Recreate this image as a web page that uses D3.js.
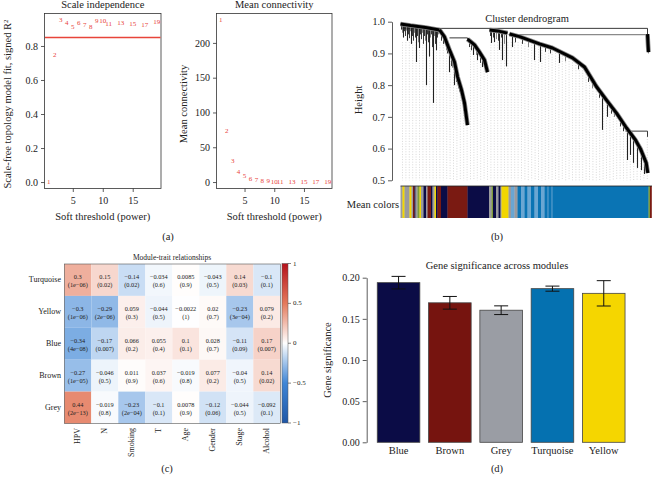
<!DOCTYPE html>
<html><head><meta charset="utf-8">
<script src="https://cdn.jsdelivr.net/npm/d3@7"></script>
<style>
body{margin:0;background:#fff}
svg{display:block}
text{font-family:"Liberation Serif","DejaVu Serif",serif;fill:#222}
</style>
</head><body>
<svg id="c" width="652" height="478"></svg>
<script>
// ================= DATA =================
// (a) soft-threshold analysis
const powers = [1,2,3,4,5,6,7,8,9,10,11,13,15,17,19];
const scaleFitR2 = [0.0,0.747,0.953,0.937,0.91,0.933,0.924,0.91,0.947,0.949,0.93,0.933,0.928,0.924,0.941];
const meanConnectivity = [233,73,30,15,8.7,5,3.5,1.5,0.8,0.6,0.4,0.3,0.2,0.15,0.1];
const r2Cutoff = 0.85;
const r2Ticks = [0,0.2,0.4,0.6,0.8];
const kTicks = [0,50,100,150,200];
const powerTicks = [5,10,15];

// (b) cluster dendrogram (leaf position 0..250, height)
const heightTicks = [0.5,0.6,0.7,0.8,0.9,1.0];
const dendroThick = [
  [[0,0.993],[10,0.988],[25,0.982],[39,0.974]],
  [[39,0.974],[44,0.952],[49,0.911],[54,0.873],[57,0.827],[61,0.785],[64,0.744],[67,0.674]],
  [[67,0.945],[74,0.927],[79,0.904],[84,0.879],[87,0.841]],
  [[89,0.974],[97,0.971],[107,0.964]],
  [[109,0.961],[119,0.953],[139,0.930],[152,0.917],[172,0.886],[184,0.857],[196,0.795],[206,0.753],[216,0.712],[226,0.665],[235,0.627],[240,0.599],[245.7,0.555],[247.3,0.523]],
  [[247,0.961],[247.5,0.93],[248,0.904]]
];
const dendroMedium = [
  [[40,0.972],[45,0.942],[50,0.90],[55,0.855],[59,0.79]]
];
const dendroThin = [
  [[1,0.979],[247,0.979],[247,0.961]],
  [[49,0.949],[67,0.949],[67,0.945]],
  [[225,0.655],[247,0.655],[247,0.637]]
];
const dendroGrey = [
  [[108,0.959],[247,0.959]]
];
// drops: [position, top height, bottom height]
const dendroDrops = [
  [3,0.99,0.95],[7,0.988,0.94],[11,0.987,0.93],[16,0.986,0.873],[19,0.985,0.917],[26,0.982,0.80],
  [29,0.98,0.89],[33,0.978,0.744],[36,0.976,0.91],
  [49,0.911,0.841],[54,0.873,0.80],
  [73,0.93,0.895],[77,0.915,0.879],[82,0.889,0.857],
  [91,0.973,0.933],[94,0.972,0.936],[99,0.970,0.911],[102,0.968,0.879],[106,0.965,0.859],
  [112,0.958,0.92],[134,0.935,0.879],[140,0.929,0.873],[159,0.905,0.87],
  [202,0.77,0.659],[207,0.75,0.70],
  [227,0.662,0.564],[230,0.652,0.58],[233,0.640,0.555],[237,0.618,0.539],[241,0.596,0.532],[244,0.573,0.52]
];
// short fuzz drops along the branches
const dendroFuzz = [
  [1,0.992,0.975],[2,0.992,0.965],[4,0.991,0.97],[5,0.991,0.955],[6,0.990,0.972],[8,0.989,0.96],[9,0.989,0.948],
  [10,0.988,0.97],[12,0.987,0.955],[13,0.987,0.94],[14,0.986,0.965],[15,0.986,0.95],[17,0.985,0.955],[18,0.985,0.935],
  [20,0.984,0.96],[21,0.984,0.945],[22,0.983,0.965],[23,0.983,0.93],[24,0.982,0.955],[25,0.982,0.94],[27,0.981,0.96],
  [28,0.981,0.935],[30,0.980,0.95],[31,0.979,0.96],[32,0.979,0.92],[34,0.978,0.955],[35,0.977,0.93],[37,0.976,0.95],[38,0.975,0.96],
  [41,0.968,0.94],[43,0.958,0.93],[46,0.94,0.91],[47,0.933,0.90],[51,0.896,0.86],[52,0.888,0.855],[56,0.842,0.81],
  [59,0.806,0.78],[62,0.771,0.74],[63,0.758,0.72],[65,0.72,0.69],[66,0.70,0.68],
  [69,0.94,0.92],[71,0.935,0.91],[76,0.922,0.895],[80,0.90,0.87],[85,0.87,0.845],[86,0.86,0.84],
  [90,0.973,0.955],[93,0.972,0.95],[96,0.971,0.945],[98,0.970,0.94],[101,0.969,0.95],[104,0.967,0.93],
  [115,0.956,0.935],[122,0.95,0.93],[128,0.943,0.92],[145,0.924,0.905],[150,0.919,0.9],[165,0.897,0.875],
  [178,0.872,0.85],[188,0.838,0.81],[192,0.818,0.79],[199,0.783,0.76],[211,0.732,0.71],[214,0.72,0.70],
  [220,0.69,0.67],[223,0.678,0.655],[248,0.93,0.90],[249,0.92,0.905]
];
const envelopePos = [0,39,45,50,58,67,68,75,88,89,108,120,140,172,184,196,206,216,226,236,241,246,249];
const envelopeH   = [0.942,0.942,0.942,0.904,0.822,0.674,0.935,0.92,0.841,0.942,0.942,0.942,0.927,0.886,0.857,0.794,0.753,0.712,0.665,0.621,0.596,0.548,0.91];
const stripeStart = [0,2,4,9,11,12.5,14,15,17,19,20.5,23,25.5,27,30.5,32,34,35.5,37,40.5,47,67,88.5,91,92.5,95.5,98,100,101,108,110.5,114,117,120.5,124,127,130.5,134,137.5,140.5,144,147,148,151,152,248,249.5];
const stripeColor = ["grey","yellow","grey","yellow","grey","brown","navy","grey","olive","yellow","grey","navy","grey","brown","navy","grey","yellow","navy","brown","navy","brown","navy","grey","olive","navy","grey","navy","grey","yellow","grey","light","grey","turq","light","turq","light","turq","light","turq","light","turq","light2","turq","light2","turq","olive","brown"];
const stripeEnd = 251;

// (c) module-trait relationships
const modules = ["Turquoise","Yellow","Blue","Brown","Grey"];
const traits = ["HPV","N","Smoking","T","Age","Gender","Stage","Alcohol"];
const corValues = [
  [0.3,0.15,-0.14,-0.034,0.0085,-0.043,0.14,-0.1],
  [-0.3,-0.29,0.059,-0.044,-0.0022,0.02,-0.23,0.079],
  [-0.34,-0.17,0.066,0.055,0.1,0.028,-0.11,0.17],
  [-0.27,-0.046,0.011,0.037,-0.019,0.077,-0.04,0.14],
  [0.44,-0.019,-0.23,-0.1,0.0078,-0.12,-0.044,-0.092]
];
const pValues = [
  ["1e-06","0.02","0.02","0.6","0.9","0.5","0.03","0.1"],
  ["1e-06","2e-06","0.3","0.5","1","0.7","3e-04","0.2"],
  ["4e-08","0.007","0.2","0.4","0.1","0.7","0.09","0.007"],
  ["1e-05","0.5","0.9","0.6","0.8","0.2","0.5","0.02"],
  ["2e-13","0.8","2e-04","0.1","0.9","0.06","0.5","0.1"]
];
const legendTicks = [1,0.5,0,-0.5,-1];

// (d) gene significance
const gsModules = ["Blue","Brown","Grey","Turquoise","Yellow"];
const gsMean = [0.194,0.1695,0.1605,0.1867,0.181];
const gsSE = [0.0076,0.0077,0.0053,0.0031,0.0154];
const gsColors = ["#0b0c46","#76140f","#9a9da4","#0571b0","#f5d600"];
const gsTicks = [0,0.05,0.1,0.15,0.2];

// ================= DRAWING =================
const svg = d3.select("#c");
const minus = s => String(s).replace("-", "\u2212");
const red = "#e8443a";

function styleAxis(g, fs){
  g.selectAll("text").style("font-size", fs+"px").attr("fill","#222");
  g.selectAll("line,path").attr("stroke","#333").attr("stroke-width",0.8);
}

// ---------- (a) ----------
function threshPanel(x0, x1, yDomain, yTicks, yFmt, values, title, ylabX, cutoff){
  const y0 = 13.5, y1 = 188.5;
  const xs = d3.scaleLinear().domain([0.28,19.72]).range([x0,x1]);
  const ys = d3.scaleLinear().domain(yDomain).range([y1,y0]);
  const g = svg.append("g");
  g.append("rect").attr("x",x0).attr("y",y0).attr("width",x1-x0).attr("height",y1-y0)
    .attr("fill","none").attr("stroke","#333").attr("stroke-width",0.8);
  if (cutoff !== null) {
    g.append("line").attr("x1",x0+0.5).attr("x2",x1-0.5).attr("y1",ys(cutoff)).attr("y2",ys(cutoff))
      .style("stroke",red).style("stroke-width","1.3px");
  }
  g.selectAll("text.pt").data(powers).join("text").attr("class","pt")
    .attr("x",(d)=>xs(d)).attr("y",(d,i)=>ys(values[i])).attr("text-anchor","middle")
    .attr("dominant-baseline","central").style("font-size","7px").style("fill",red)
    .text(d=>d);
  const ya = g.append("g").attr("transform",`translate(${x0},0)`)
    .call(d3.axisLeft(ys).tickValues(yTicks).tickFormat(yFmt).tickSize(3.5).tickPadding(3));
  ya.select(".domain").remove(); styleAxis(ya, 10);
  const xa = g.append("g").attr("transform",`translate(0,${y1})`)
    .call(d3.axisBottom(xs).tickValues(powerTicks).tickSize(3.5).tickPadding(5));
  xa.select(".domain").remove(); styleAxis(xa, 10);
  g.append("text").attr("x",(x0+x1)/2).attr("y",7.5).attr("text-anchor","middle").style("font-size","10.5px").text(title);
  g.append("text").attr("x",(x0+x1)/2).attr("y",220).attr("text-anchor","middle").style("font-size","10.5px").text("Soft threshold (power)");
  return g.append("text").attr("transform",`translate(${ylabX},${(y0+y1)/2+3}) rotate(-90)`)
    .attr("text-anchor","middle").style("font-size","10.5px");
}
const yl1 = threshPanel(44.5,161,[-0.038,0.991],r2Ticks,d3.format(".1f"),scaleFitR2,"Scale independence",11,r2Cutoff);
yl1.text("Scale-free topology model fit, signed R");
yl1.append("tspan").attr("dy","-0.4em").style("font-size","7px").text("2");
const yl2 = threshPanel(216.5,332,[-9.3,242.3],kTicks,d3.format("d"),meanConnectivity,"Mean connectivity",186.5,null);
yl2.text("Mean connectivity");
svg.append("text").attr("x",168).attr("y",240).attr("text-anchor","middle").style("font-size","10.5px").text("(a)");

// ---------- (b) ----------
(function(){
  const leaf = d3.scaleLinear().domain([0,250]).range([400.5,650.5]);
  const yh = d3.scaleLinear().domain([0.5,1.0]).range([180.3,21.7]);
  const g = svg.append("g");
  const env = d3.scaleLinear().domain(envelopePos).range(envelopeH);
  const dotPos = d3.range(2,249,3.4);
  g.selectAll("line.dot").data(dotPos).join("line").attr("class","dot")
    .attr("x1",d=>leaf(d)).attr("x2",d=>leaf(d)).attr("y1",d=>yh(env(d))+2).attr("y2",yh(0.5))
    .attr("stroke","#bdbdbd").attr("stroke-width",0.6).attr("stroke-dasharray","1,1.6");
  const ln = d3.line().x(d=>leaf(d[0])).y(d=>yh(d[1]));
  g.selectAll("path.grey").data(dendroGrey).join("path").attr("d",ln).attr("fill","none")
    .attr("stroke","#8a8a8a").attr("stroke-width",1.2);
  g.selectAll("path.thin").data(dendroThin).join("path").attr("d",ln).attr("fill","none")
    .attr("stroke","#222").attr("stroke-width",0.9);
  g.selectAll("line.fuzz").data(dendroFuzz).join("line").attr("class","fuzz")
    .attr("x1",d=>leaf(d[0])).attr("x2",d=>leaf(d[0])).attr("y1",d=>yh(d[1])).attr("y2",d=>yh(d[2]))
    .attr("stroke",(d,i)=>i%3===1?"#777":"#222").attr("stroke-width",0.9);
  g.selectAll("line.drop").data(dendroDrops).join("line").attr("class","drop")
    .attr("x1",d=>leaf(d[0])).attr("x2",d=>leaf(d[0])).attr("y1",d=>yh(d[1])).attr("y2",d=>yh(d[2]))
    .attr("stroke","#222").attr("stroke-width",1.1);
  g.selectAll("path.med").data(dendroMedium).join("path").attr("d",ln).attr("fill","none")
    .attr("stroke","#333").attr("stroke-width",2).attr("stroke-linejoin","round");
  g.selectAll("path.thickhalo").data(dendroThick).join("path").attr("d",ln).attr("fill","none")
    .attr("stroke","#888").attr("stroke-width",4.6).attr("stroke-linejoin","round");
  g.selectAll("path.thick").data(dendroThick).join("path").attr("d",ln).attr("fill","none")
    .attr("stroke","#000").attr("stroke-width",3).attr("stroke-linejoin","round");
  const ya = g.append("g").attr("transform","translate(392,0)")
    .call(d3.axisLeft(yh).tickValues(heightTicks).tickFormat(d3.format(".1f")).tickSize(4).tickSizeOuter(0).tickPadding(3));
  styleAxis(ya,10);
  g.append("text").attr("transform","translate(362,100) rotate(-90)").attr("text-anchor","middle").style("font-size","10.5px").text("Height");
  g.append("text").attr("x",527).attr("y",22).attr("text-anchor","middle").style("font-size","10.5px").text("Cluster dendrogram");
  const modCol = {grey:"#9a9a9e",navy:"#0b0c46",brown:"#7a1a12",yellow:"#f2d600",turq:"#0a74b4",light:"#6aa6d2",light2:"#3d8cc4",olive:"#7e9a3a"};
  const stripes = stripeStart.map((s,i)=>({s, e: i<stripeStart.length-1 ? stripeStart[i+1] : stripeEnd, c: modCol[stripeColor[i]]}));
  g.selectAll("rect.st").data(stripes).join("rect").attr("class","st")
    .attr("x",d=>leaf(d.s)).attr("width",d=>leaf(d.e)-leaf(d.s)+0.3).attr("y",186).attr("height",32)
    .attr("fill",d=>d.c);
  g.append("line").attr("x1",leaf(0)).attr("x2",652).attr("y1",186).attr("y2",186).attr("stroke","#222").attr("stroke-width",0.8);
  g.append("text").attr("x",399).attr("y",208).attr("text-anchor","end").style("font-size","10.5px").text("Mean colors");
  svg.append("text").attr("x",497).attr("y",240).attr("text-anchor","middle").style("font-size","10.5px").text("(b)");
})();

// ---------- (c) ----------
(function(){
  const x = d3.scaleBand().domain(traits).range([64.3,280.3]);
  const y = d3.scaleBand().domain(modules).range([264,423.5]);
  const col = d3.scaleLinear().domain([-1,-0.5,0,0.5,1])
    .range(["#1f56a6","#3f86d6","#ffffff","#e47a5c","#b5121b"]).interpolate(d3.interpolateRgb);
  const g = svg.append("g");
  const cells = [];
  modules.forEach((m,i)=>traits.forEach((t,j)=>cells.push({m,t,v:corValues[i][j],p:pValues[i][j]})));
  g.selectAll("rect.cell").data(cells).join("rect").attr("class","cell")
    .attr("x",d=>x(d.t)).attr("y",d=>y(d.m)).attr("width",x.bandwidth()).attr("height",y.bandwidth())
    .attr("fill",d=>col(d.v));
  g.append("rect").attr("x",64.3).attr("y",264).attr("width",216).attr("height",159.5)
    .attr("fill","none").attr("stroke","#555").attr("stroke-width",0.6);
  const ct = g.selectAll("text.ct").data(cells).join("text").attr("class","ct")
    .attr("text-anchor","middle").style("font-size","6.3px");
  ct.append("tspan").attr("x",d=>x(d.t)+x.bandwidth()/2).attr("y",d=>y(d.m)+y.bandwidth()/2-1).text(d=>minus(d.v));
  ct.append("tspan").attr("x",d=>x(d.t)+x.bandwidth()/2).attr("y",d=>y(d.m)+y.bandwidth()/2+7).text(d=>"("+minus(d.p)+")");
  g.selectAll("text.rl").data(modules).join("text").attr("class","rl")
    .attr("x",61).attr("y",d=>y(d)+y.bandwidth()/2).attr("dominant-baseline","central")
    .attr("text-anchor","end").style("font-size","8px").text(d=>d);
  g.selectAll("text.cl").data(traits).join("text").attr("class","cl")
    .attr("transform",d=>`translate(${x(d)+x.bandwidth()/2},428) rotate(-90)`)
    .attr("text-anchor","end").attr("dominant-baseline","central").style("font-size","8px").text(d=>d);
  g.append("text").attr("x",172).attr("y",260).attr("text-anchor","middle").style("font-size","7.5px").text("Module-trait relationships");
  // legend
  const ly = d3.scaleLinear().domain([-1,1]).range([423,263.5]);
  const grad = svg.append("defs").append("linearGradient").attr("id","cg").attr("x1",0).attr("x2",0).attr("y1",1).attr("y2",0);
  d3.range(-1,1.001,0.1).forEach(v=>grad.append("stop").attr("offset",(v+1)/2).attr("stop-color",col(v)));
  g.append("rect").attr("x",282).attr("y",263.5).attr("width",6).attr("height",159.5).attr("fill","url(#cg)")
    .attr("stroke","#555").attr("stroke-width",0.5);
  g.selectAll("line.lt").data(legendTicks).join("line").attr("x1",288).attr("x2",291)
    .attr("y1",d=>ly(d)).attr("y2",d=>ly(d)).attr("stroke","#333").attr("stroke-width",0.6);
  g.selectAll("text.lt").data(legendTicks).join("text").attr("class","lt").attr("x",293).attr("y",d=>ly(d))
    .attr("dominant-baseline","central").style("font-size","7px").text(d=>minus(d));
  svg.append("text").attr("x",167).attr("y",472).attr("text-anchor","middle").style("font-size","10.5px").text("(c)");
})();

// ---------- (d) ----------
(function(){
  const x = d3.scaleBand().domain(gsModules).range([372.9,629.4]).paddingInner(0.17).paddingOuter(0.085);
  const y = d3.scaleLinear().domain([0,0.2]).range([442.3,277.7]);
  const g = svg.append("g");
  g.selectAll("rect.bar").data(gsModules).join("rect").attr("class","bar")
    .attr("x",d=>x(d)).attr("width",x.bandwidth()).attr("y",(d,i)=>y(gsMean[i])).attr("height",(d,i)=>y(0)-y(gsMean[i]))
    .attr("fill",(d,i)=>gsColors[i]).attr("stroke","#444").attr("stroke-width",0.8);
  const eb = g.selectAll("g.eb").data(gsModules).join("g");
  eb.append("line").attr("x1",d=>x(d)+x.bandwidth()/2).attr("x2",d=>x(d)+x.bandwidth()/2)
    .attr("y1",(d,i)=>y(gsMean[i]+gsSE[i])).attr("y2",(d,i)=>y(gsMean[i]-gsSE[i]));
  eb.append("line").attr("x1",d=>x(d)+x.bandwidth()/2-7).attr("x2",d=>x(d)+x.bandwidth()/2+7)
    .attr("y1",(d,i)=>y(gsMean[i]+gsSE[i])).attr("y2",(d,i)=>y(gsMean[i]+gsSE[i]));
  eb.append("line").attr("x1",d=>x(d)+x.bandwidth()/2-7).attr("x2",d=>x(d)+x.bandwidth()/2+7)
    .attr("y1",(d,i)=>y(gsMean[i]-gsSE[i])).attr("y2",(d,i)=>y(gsMean[i]-gsSE[i]));
  eb.selectAll("line").attr("stroke","#111").attr("stroke-width",1);
  const ya = g.append("g").attr("transform","translate(366.7,0)")
    .call(d3.axisLeft(y).tickValues(gsTicks).tickFormat(d3.format(".2f")).tickSize(4).tickSizeOuter(0).tickPadding(3));
  styleAxis(ya,10);
  g.selectAll("text.xl").data(gsModules).join("text").attr("class","xl")
    .attr("x",d=>x(d)+x.bandwidth()/2).attr("y",454).attr("text-anchor","middle").style("font-size","10.5px").text(d=>d);
  g.append("text").attr("x",497).attr("y",268.5).attr("text-anchor","middle").style("font-size","10.5px").text("Gene significance across modules");
  g.append("text").attr("transform","translate(331,360) rotate(-90)").attr("text-anchor","middle").style("font-size","10.5px").text("Gene significance");
  svg.append("text").attr("x",497).attr("y",472).attr("text-anchor","middle").style("font-size","10.5px").text("(d)");
})();
</script>
</body></html>
